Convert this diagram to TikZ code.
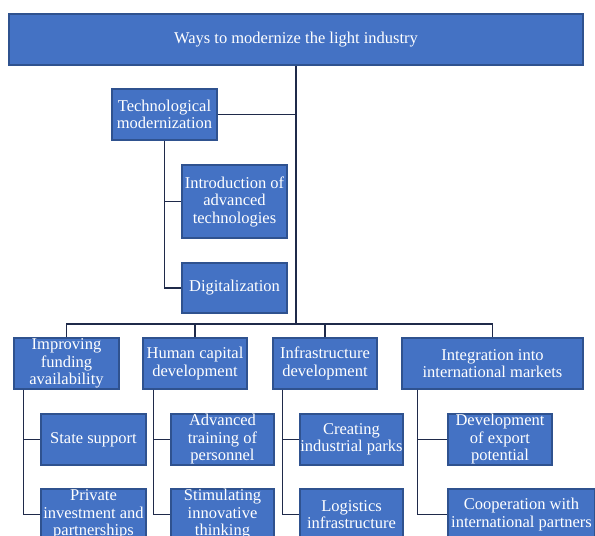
\documentclass[tikz,border=0pt]{standalone}
\usepackage{fontspec}
\setmainfont{Liberation Serif}
\definecolor{boxfill}{HTML}{4472C4}
\definecolor{boxline}{HTML}{2F528F}
\definecolor{linkcol}{HTML}{1F2A4A}
\tikzset{
  box/.style={draw=boxline, line width=1.1pt, fill=boxfill, text=white,
    font=\rmfamily\fontsize{16.5}{17.5}\selectfont, align=center, inner sep=0pt,
    minimum width=105pt, minimum height=51pt},
  link/.style={draw=linkcol, line width=1.7pt}
}
\begin{document}
\begin{tikzpicture}[x=1pt,y=-1pt,line join=miter]
  \clip (0,0) rectangle (595,536);
  \fill[white] (0,0) rectangle (595,536);
  \node[box, minimum width=574pt] (title) at (296,39.5) {Ways to modernize the light industry};
  \node[box] (tech) at (164.5,114.5) {Technological\\modernization};
  \node[box, minimum height=73pt] (intro) at (234.5,201.5) {Introduction of\\advanced\\technologies};
  \node[box, minimum height=50pt] (digit) at (234.5,288) {Digitalization};
  \node[box] (fund) at (66.5,363.5) {Improving\\funding\\availability};
  \node[box, minimum width=104pt] (human) at (195,363.5) {Human capital\\development};
  \node[box, minimum width=104pt] (infra) at (325,363.5) {Infrastructure\\development};
  \node[box, minimum width=181pt] (integ) at (492.5,363.5) {Integration into\\international markets};
  \node[box] (state) at (93.5,439.5) {State support};
  \node[box] (priv) at (93.5,514.5) {Private\\investment and\\partnerships};
  \node[box, minimum width=103pt] (train) at (222.5,439.5) {Advanced\\training of\\personnel};
  \node[box, minimum width=103pt] (stim) at (222.5,514.5) {Stimulating\\innovative\\thinking};
  \node[box, minimum width=103pt] (parks) at (351.5,439.5) {Creating\\industrial parks};
  \node[box, minimum width=103pt] (logis) at (351.5,514.5) {Logistics\\infrastructure};
  \node[box, minimum width=104pt] (export) at (500,439.5) {Development\\of export\\potential};
  \node[box, minimum width=147pt] (coop) at (521.5,514.5) {Cooperation with\\international partners};
  \coordinate (bus) at (0,324);
  \draw[link] (title.south) -- (title.south |- bus);
  \draw[link] (tech.east) -- (tech.east -| title.south);
  \draw[link] (tech.south) |- (intro.west);
  \draw[link] (tech.south) |- (digit.west);
  \draw[link] (fund.north) |- (bus -| integ.north) -- (integ.north);
  \draw[link] (human.north) -- (human.north |- bus);
  \draw[link] (infra.north) -- (infra.north |- bus);
  \draw[link] ([xshift=10pt]fund.south west) |- (state.west);
  \draw[link] ([xshift=10pt]fund.south west) |- (priv.west);
  \draw[link] ([xshift=11pt]human.south west) |- (train.west);
  \draw[link] ([xshift=11pt]human.south west) |- (stim.west);
  \draw[link] ([xshift=10pt]infra.south west) |- (parks.west);
  \draw[link] ([xshift=10pt]infra.south west) |- (logis.west);
  \draw[link] ([xshift=16pt]integ.south west) |- (export.west);
  \draw[link] ([xshift=16pt]integ.south west) |- (coop.west);
\end{tikzpicture}
\end{document}
